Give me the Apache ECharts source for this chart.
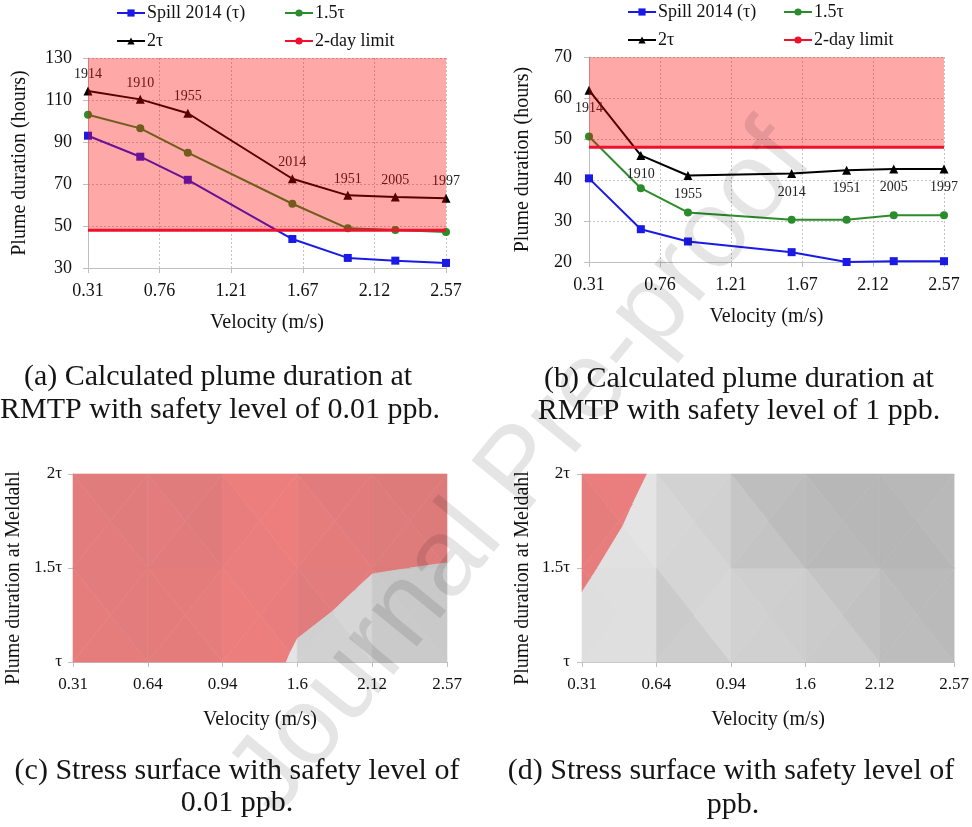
<!DOCTYPE html>
<html>
<head>
<meta charset="utf-8">
<script src="https://cdn.jsdelivr.net/npm/echarts@6.0.0/dist/echarts.min.js"></script>
<style>
html, body { margin: 0; padding: 0; background: #fff; }
#chart { width: 972px; height: 827px; }
</style>
</head>
<body>
<div id="chart"></div>
<script>
// velocity of each historical event (m/s) and the flood year it comes from
const velocity = [0.31, 0.64, 0.94, 1.60, 1.95, 2.25, 2.57];
const years = ['1914', '1910', '1955', '2014', '1951', '2005', '1997'];

// (a) safety level 0.01 ppb, plume duration in hours
const spillA = [93, 83, 72, 43.8, 34.8, 33.5, 32.4];
const tau15A = [103, 96.5, 84.9, 60.6, 48.9, 48.1, 47.1];
const tau2A = [114.3, 110.3, 103.7, 72.5, 64.6, 63.8, 63.2];

// (b) safety level 1 ppb
const spillB = [40.4, 28.0, 25.0, 22.4, 20.0, 20.2, 20.2];
const tau15B = [50.6, 38.0, 32.1, 30.3, 30.3, 31.4, 31.4];
const tau2B = [61.9, 46.0, 41.1, 41.6, 42.4, 42.7, 42.7];

const dayLimit = 48; // 2-day limit (hours)

const velTicks = ['0.31', '0.76', '1.21', '1.67', '2.12', '2.57'];
const hourTicksA = ['30', '50', '70', '90', '110', '130'];

// (c)/(d) stress surface: rows are tau, 1.5tau, 2tau
const surfTicks = ['0.31', '0.64', '0.94', '1.6', '2.12', '2.57'];
const surfRows = ['τ', '1.5τ', '2τ'];
const surfC = [
	[93, 83, 72, 43.8, 34.8, 32.4],
	[103, 96.5, 84.9, 60.6, 48.9, 47.1],
	[114.3, 110.3, 103.7, 72.5, 64.6, 63.2]
];
const surfD = [
	[40.4, 28.0, 25.0, 22.4, 20.0, 20.2],
	[50.6, 38.0, 32.1, 30.3, 30.3, 31.4],
	[61.9, 46.0, 41.1, 41.6, 42.4, 42.7]
];

const serif = '"Liberation Serif", "Times New Roman", serif';
const BLUE = '#1a1ae6', GREEN = '#2a8c2a', BLACK = '#000', RED = '#f0102d';

function pairs(ys) {
	return ys.map(function (v, i) { return [velocity[i], v]; });
}

function lineSeries(name, ys, xi, yi, color, symbol, size, label) {
	return {
		name: name, type: 'line', xAxisIndex: xi, yAxisIndex: yi,
		data: pairs(ys), symbol: symbol, symbolSize: size, z: 2,
		lineStyle: { color: color, width: 2 },
		itemStyle: { color: color },
		label: label || { show: false },
		animation: false
	};
}

function yearLabel(pos, dist) {
	return {
		show: true, position: pos, distance: dist,
		fontFamily: serif, fontSize: 14, color: '#222',
		formatter: function (p) { return years[p.dataIndex]; }
	};
}

// pink "unsafe" band drawn over the lines
function overlay(xi, yi, top) {
	return {
		type: 'custom', xAxisIndex: xi, yAxisIndex: yi, z: 3, silent: true,
		data: [[velocity[0], dayLimit, velocity[velocity.length - 1], top]],
		renderItem: function (params, api) {
			const p0 = api.coord([api.value(0), api.value(1)]);
			const p1 = api.coord([api.value(2), api.value(3)]);
			return {
				type: 'rect',
				shape: { x: p0[0], y: p1[1], width: p1[0] - p0[0], height: p0[1] - p1[1] },
				style: { fill: 'rgba(255,0,0,0.34)' }
			};
		}
	};
}

function limitSeries(xi, yi) {
	return {
		name: '2-day limit', type: 'line', xAxisIndex: xi, yAxisIndex: yi, z: 4,
		data: [[velocity[0], dayLimit], [velocity[velocity.length - 1], dayLimit]],
		symbol: 'none', lineStyle: { color: RED, width: 3 }, itemStyle: { color: RED },
		animation: false
	};
}

// ---- surface facets (each cell split in 4 triangles round its centre) ----
function slope(t) {
	const ux = t[1][0] - t[0][0], uy = t[1][1] - t[0][1], uv = t[1][2] - t[0][2];
	const wx = t[2][0] - t[0][0], wy = t[2][1] - t[0][1], wv = t[2][2] - t[0][2];
	const nx = uy * wv - uv * wy, ny = uv * wx - ux * wv, nv = ux * wy - uy * wx;
	return [-nx / nv, -ny / nv];
}

function clip(tri, above) {
	const res = [];
	for (let n = 0; n < tri.length; n++) {
		const p = tri[n], q = tri[(n + 1) % tri.length];
		const pin = above ? p[2] >= dayLimit : p[2] < dayLimit;
		const qin = above ? q[2] >= dayLimit : q[2] < dayLimit;
		if (pin) res.push([p[0], p[1]]);
		if (pin !== qin) {
			const t = (dayLimit - p[2]) / (q[2] - p[2]);
			res.push([p[0] + t * (q[0] - p[0]), p[1] + t * (q[1] - p[1])]);
		}
	}
	return res;
}

function greyShade(l) {
	const g = Math.round(Math.max(180, Math.min(228, l)));
	return 'rgb(' + g + ',' + g + ',' + g + ')';
}
function redShade(l) {
	const r = Math.round(Math.max(220, Math.min(246, 226 + 0.35 * (l - 210))));
	const gb = Math.round(Math.max(119, Math.min(128, 124 + 0.06 * (l - 210))));
	return 'rgb(' + r + ',' + gb + ',' + gb + ')';
}

function facets(rows, zMax) {
	const out = [];
	const k = 70 / zMax;
	for (let j = 0; j < rows.length - 1; j++) {
		for (let i = 0; i < rows[j].length - 1; i++) {
			const bl = [i, j, rows[j][i]], br = [i + 1, j, rows[j][i + 1]];
			const tr = [i + 1, j + 1, rows[j + 1][i + 1]], tl = [i, j + 1, rows[j + 1][i]];
			const c = [i + 0.5, j + 0.5, (bl[2] + br[2] + tr[2] + tl[2]) / 4];
			[[bl, br, c], [br, tr, c], [tr, tl, c], [tl, bl, c]].forEach(function (tri) {
				const g = slope(tri);
				const lum = 232 - 4 * g[1] * k - 2.5 * g[0] * k;
				const hot = clip(tri, true), cool = clip(tri, false);
				if (hot.length > 2) out.push({ pts: hot, color: redShade(lum) });
				if (cool.length > 2) out.push({ pts: cool, color: greyShade(lum) });
			});
		}
	}
	return out;
}

function surfaceSeries(list, xi, yi) {
	return {
		type: 'custom', xAxisIndex: xi, yAxisIndex: yi, silent: true, z: 2,
		data: list.map(function () { return [0, 0]; }),
		renderItem: function (params, api) {
			const f = list[params.dataIndex];
			return {
				type: 'polygon',
				shape: { points: f.pts.map(function (p) { return api.coord(p); }) },
				style: { fill: f.color, stroke: f.color, lineWidth: 0.6 }
			};
		}
	};
}

// ---- axes helpers ----
const nameText = { fontFamily: serif, fontSize: 20, color: '#111' };
const dotted = { show: true, lineStyle: { type: [2, 2], color: '#c4c4c4', width: 1 } };

function tickText(size) {
	return { fontFamily: serif, fontSize: size, color: '#111' };
}
function hiddenAxis(grid, min, max, pos) {
	return { gridIndex: grid, type: 'value', min: min, max: max, show: false, position: pos };
}
function labelX(grid, data, gap, split, size) {
	return {
		gridIndex: grid, type: 'category', data: data, boundaryGap: false, position: 'bottom',
		axisLine: { onZero: false, lineStyle: { color: '#bfbfbf' } },
		axisTick: { show: true, length: 5, lineStyle: { color: '#bfbfbf' } },
		axisLabel: Object.assign({ margin: 14 }, tickText(size)),
		splitLine: split ? dotted : { show: false },
		name: 'Velocity (m/s)', nameLocation: 'middle', nameGap: gap, nameTextStyle: nameText
	};
}
function labelY(grid, data, name, gap, margin, split, size, shift) {
	return {
		gridIndex: grid, type: 'category', data: data, boundaryGap: false, position: 'left',
		axisLine: { onZero: false, lineStyle: { color: '#bfbfbf' } },
		axisTick: { show: true, length: 5, lineStyle: { color: '#bfbfbf' } },
		axisLabel: Object.assign({ margin: margin }, tickText(size)),
		splitLine: split ? dotted : { show: false },
		name: name, nameLocation: 'middle', nameGap: gap,
		nameTextStyle: Object.assign({ padding: [0, shift, 0, 0] }, nameText)
	};
}

function legendItem(name, left, top) {
	return {
		data: [name], left: left, top: top, padding: 0, itemGap: 0,
		itemWidth: 28, itemHeight: 9, selectedMode: false,
		textStyle: { fontFamily: serif, fontSize: 18, color: '#111', padding: [0, 0, 0, -3] }
	};
}

function caption(text, x, y) {
	return {
		type: 'text', x: x, y: y, silent: true,
		style: { text: text, font: '30px ' + serif, fill: '#151515', align: 'center', verticalAlign: 'middle' }
	};
}

const chart = echarts.init(document.getElementById('chart'), null, { renderer: 'canvas' });

const option = {
	animation: false,
	backgroundColor: '#fff',
	grid: [
		{ left: 88, top: 58, width: 358, height: 210 },
		{ left: 589, top: 57, width: 355, height: 205 },
		{ left: 73, top: 474, width: 374, height: 188 },
		{ left: 582, top: 474, width: 374, height: 188 }
	],
	xAxis: [
		hiddenAxis(0, velocity[0], velocity[velocity.length - 1], 'top'),
		labelX(0, velTicks, 45, true, 18),
		hiddenAxis(1, velocity[0], velocity[velocity.length - 1], 'top'),
		labelX(1, velTicks, 45, true, 18),
		hiddenAxis(2, 0, surfTicks.length - 1, 'top'),
		labelX(2, surfTicks, 48, false, 17),
		hiddenAxis(3, 0, surfTicks.length - 1, 'top'),
		labelX(3, surfTicks, 48, false, 17)
	],
	yAxis: [
		hiddenAxis(0, 30, 130, 'right'),
		labelY(0, hourTicksA, 'Plume duration (hours)', 58, 16, true, 18, 0),
		{
			gridIndex: 1, type: 'value', min: 20, max: 70, interval: 10, position: 'left',
			axisLine: { show: true, onZero: false, lineStyle: { color: '#bfbfbf' } },
			axisTick: { show: true, length: 5, lineStyle: { color: '#bfbfbf' } },
			axisLabel: Object.assign({ margin: 17 }, tickText(18)),
			splitLine: dotted,
			name: 'Plume duration (hours)', nameLocation: 'middle', nameGap: 56, nameTextStyle: nameText
		},
		hiddenAxis(2, 0, surfRows.length - 1, 'right'),
		labelY(2, surfRows, 'Plume duration at Meldahl', 49, 11, false, 17, 20),
		hiddenAxis(3, 0, surfRows.length - 1, 'right'),
		labelY(3, surfRows, 'Plume duration at Meldahl', 49, 12, false, 17, 20)
	],
	legend: [
		legendItem('Spill 2014 (τ)', 116, 4),
		legendItem('1.5τ', 284, 4),
		legendItem('2τ', 116, 32),
		legendItem('2-day limit', 284, 32),
		legendItem('Spill 2014 (τ)', 627, 3),
		legendItem('1.5τ', 783, 3),
		legendItem('2τ', 627, 31),
		legendItem('2-day limit', 783, 31)
	],
	series: [
		lineSeries('Spill 2014 (τ)', spillA, 0, 0, BLUE, 'rect', 8),
		lineSeries('1.5τ', tau15A, 0, 0, GREEN, 'circle', 8),
		lineSeries('2τ', tau2A, 0, 0, BLACK, 'triangle', 9, yearLabel('top', 5)),
		overlay(0, 0, 130),
		limitSeries(0, 0),

		lineSeries('Spill 2014 (τ)', spillB, 2, 2, BLUE, 'rect', 8),
		lineSeries('1.5τ', tau15B, 2, 2, GREEN, 'circle', 8),
		lineSeries('2τ', tau2B, 2, 2, BLACK, 'triangle', 9, yearLabel('bottom', 7)),
		overlay(2, 2, 70),
		limitSeries(2, 2),

		surfaceSeries(facets(surfC, 120), 4, 3),
		surfaceSeries(facets(surfD, 70), 6, 5)
	],
	graphic: [
		caption('(a) Calculated plume duration at', 218, 377),
		caption('RMTP with safety level of 0.01 ppb.', 220, 410),
		caption('(b) Calculated plume duration at', 739, 379),
		caption('RMTP with safety level of 1 ppb.', 739, 411),
		caption('(c) Stress surface with safety level of', 237, 771),
		caption('0.01 ppb.', 237, 803),
		caption('(d) Stress surface with safety level of', 731, 771),
		caption('ppb.', 733, 805),
		{
			type: 'text', x: 522, y: 470, rotation: 0.885, z: 100, silent: true,
			style: {
				text: 'Journal Pre-proof', font: '110px "Liberation Sans", Arial, sans-serif',
				fill: 'rgba(0,0,0,0.1)', align: 'center', verticalAlign: 'middle'
			}
		}
	]
};

chart.setOption(option);
</script>
</body>
</html>
